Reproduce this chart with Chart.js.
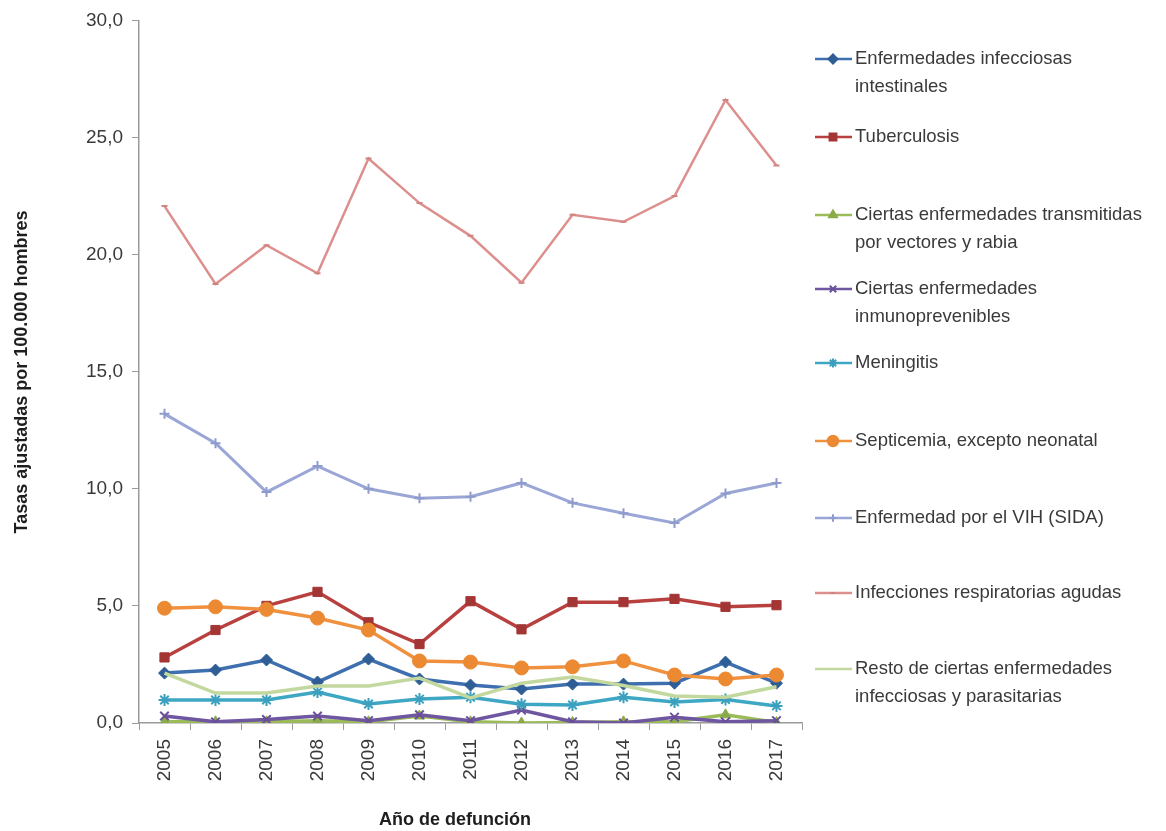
<!DOCTYPE html>
<html>
<head>
<meta charset="utf-8">
<script src="https://cdn.jsdelivr.net/npm/chart.js@4/dist/chart.umd.min.js"></script>
<style>
  html, body { margin: 0; padding: 0; background: #fff; }
  #wrap { position: relative; width: 1166px; height: 831px; }
</style>
</head>
<body>
<div id="wrap"><canvas id="c" width="1166" height="831"></canvas></div>
<script>
// Años de defunción
const years = ['2005','2006','2007','2008','2009','2010','2011','2012','2013','2014','2015','2016','2017'];

// Tasas ajustadas por 100.000 hombres, por grupo de causas
const intestinales   = [2.13, 2.26, 2.69, 1.75, 2.73, 1.88, 1.62, 1.45, 1.66, 1.66, 1.70, 2.60, 1.70];
const tuberculosis   = [2.80, 3.97, 5.00, 5.60, 4.30, 3.37, 5.20, 4.00, 5.16, 5.16, 5.30, 4.96, 5.03];
const vectores       = [0.05, 0.05, 0.05, 0.10, 0.05, 0.30, 0.05, 0.00, 0.02, 0.05, 0.05, 0.35, 0.02];
const inmunoprev     = [0.30, 0.05, 0.15, 0.30, 0.10, 0.35, 0.10, 0.55, 0.05, 0.00, 0.25, 0.05, 0.10];
const meningitis     = [0.98, 0.98, 0.98, 1.32, 0.81, 1.02, 1.10, 0.80, 0.77, 1.10, 0.90, 1.00, 0.73];
const septicemia     = [4.90, 4.96, 4.85, 4.48, 3.97, 2.65, 2.60, 2.35, 2.40, 2.65, 2.05, 1.88, 2.05];
const vih            = [13.2, 11.95, 9.86, 10.97, 10.0, 9.6, 9.66, 10.25, 9.4, 8.96, 8.54, 9.8, 10.25];
const respiratorias  = [22.07, 18.75, 20.4, 19.2, 24.1, 22.2, 20.8, 18.8, 21.7, 21.4, 22.5, 26.6, 23.8];
const restoInfecc    = [2.13, 1.28, 1.28, 1.58, 1.58, 1.92, 1.07, 1.70, 1.96, 1.60, 1.15, 1.10, 1.55];

// Etiquetas de la leyenda (líneas separadas)
const legendLabels = [
  ['Enfermedades infecciosas', 'intestinales'],
  ['Tuberculosis'],
  ['Ciertas enfermedades transmitidas', 'por vectores y rabia'],
  ['Ciertas enfermedades', 'inmunoprevenibles'],
  ['Meningitis'],
  ['Septicemia, excepto neonatal'],
  ['Enfermedad por el VIH (SIDA)'],
  ['Infecciones respiratorias agudas'],
  ['Resto de ciertas enfermedades', 'infecciosas y parasitarias']
];

const yTicks = [0, 5, 10, 15, 20, 25, 30];
const yTitle = 'Tasas ajustadas por 100.000 hombres';
const xTitle = 'Año de defunción';

const REG = "'Liberation Sans', Arial, sans-serif";

const styles = [
  { color: '#3e6fae', point: '#2f5d95', style: 'rectRot', r: 6 },
  { color: '#b8413f', point: '#a33634', style: 'rect', r: 6.5 },
  { color: '#9bbb59', point: '#8aab48', style: 'triangle', r: 6 },
  { color: '#6f56a0', point: '#6a4f98', style: 'crossRot', r: 6 },
  { color: '#3ea7c4', point: '#3aa0bd', style: 'star', r: 6 },
  { color: '#f0913f', point: '#ec8a33', style: 'circle', r: 7 },
  { color: '#9aa6d6', point: '#8f9bcc', style: 'cross', r: 5 },
  { color: '#dc8f8d', point: '#d08482', style: 'line', r: 3 },
  { color: '#c3d89e', point: '#c3d89e', style: 'circle', r: 0 }
];

const series = [intestinales, tuberculosis, vectores, inmunoprev, meningitis, septicemia, vih, respiratorias, restoInfecc];

const datasets = series.map((d, i) => ({
  label: legendLabels[i].join(' '),
  data: d,
  borderColor: styles[i].color,
  backgroundColor: styles[i].point,
  pointBorderColor: styles[i].point,
  pointBackgroundColor: styles[i].point,
  pointStyle: styles[i].style,
  pointRadius: styles[i].r,
  pointBorderWidth: ['crossRot', 'cross', 'star', 'line'].includes(styles[i].style) ? 2 : 1,
  borderWidth: i === 7 ? 2.5 : (i === 6 ? 3 : 3.5),
  tension: 0,
  order: series.length - i
}));

// Leyenda a la derecha y títulos de los ejes
const legendY = [59, 137, 215, 289, 363, 441, 518, 593, 669];
const decorPlugin = {
  id: 'decor',
  afterDraw(chart) {
    const ctx = chart.ctx;
    ctx.save();
    legendLabels.forEach((lines, i) => {
      const y = legendY[i];
      const st = styles[i];
      ctx.strokeStyle = st.color;
      ctx.lineWidth = 2.5;
      ctx.beginPath();
      ctx.moveTo(815, y);
      ctx.lineTo(852, y);
      ctx.stroke();
      if (st.r > 0) {
        ctx.fillStyle = st.point;
        ctx.strokeStyle = st.point;
        ctx.lineWidth = 2;
        Chart.helpers.drawPoint(ctx, { pointStyle: st.style, radius: st.r * 0.75, borderWidth: 2 }, 833, y);
      }
      ctx.fillStyle = '#3a3a3a';
      ctx.font = '18.5px ' + REG;
      ctx.textBaseline = 'middle';
      ctx.textAlign = 'left';
      lines.forEach((t, k) => ctx.fillText(t, 855, y + k * 28));
    });

    ctx.fillStyle = '#1e1e1e';
    ctx.font = 'bold 18px ' + REG;
    ctx.textAlign = 'center';
    ctx.textBaseline = 'middle';
    ctx.fillText(xTitle, 455, 820);

    ctx.translate(22, 372);
    ctx.rotate(-Math.PI / 2);
    ctx.fillText(yTitle, 0, 0);
    ctx.restore();
  }
};

new Chart(document.getElementById('c'), {
  type: 'line',
  data: { labels: years, datasets },
  options: {
    responsive: false,
    animation: false,
    devicePixelRatio: 1,
    layout: { padding: { left: 0, right: 364, top: 20, bottom: 0 } },
    plugins: { legend: { display: false }, tooltip: { enabled: false } },
    scales: {
      x: {
        offset: true,
        grid: { display: true, drawOnChartArea: false, offset: true, tickLength: 7, color: '#9a9a9a' },
        border: { color: '#9a9a9a', width: 1.5 },
        ticks: {
          maxRotation: 90, minRotation: 90, autoSkip: false, padding: 9,
          color: '#3a3a3a', font: { family: REG, size: 19 }
        },
        afterFit(scale) { scale.height = 108; }
      },
      y: {
        min: 0, max: 30,
        afterBuildTicks(scale) { scale.ticks = yTicks.map(v => ({ value: v })); },
        grid: { display: true, drawOnChartArea: false, tickLength: 7, color: '#9a9a9a' },
        border: { color: '#9a9a9a', width: 1.5 },
        ticks: {
          padding: 9, color: '#3a3a3a', font: { family: REG, size: 19 },
          callback: v => v.toFixed(1).replace('.', ',')
        },
        afterFit(scale) { scale.width = 139; }
      }
    }
  },
  plugins: [decorPlugin]
});
</script>
</body>
</html>
